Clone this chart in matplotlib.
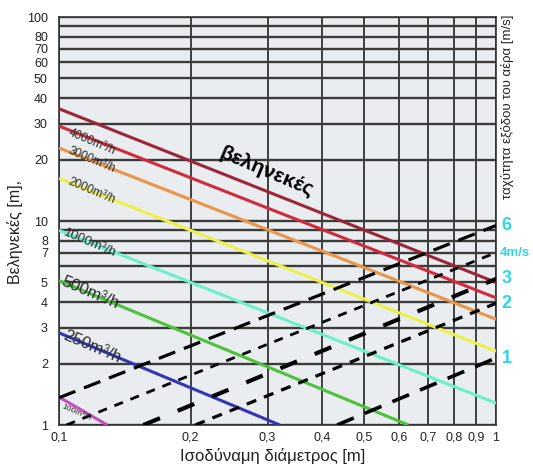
import matplotlib
matplotlib.use("Agg")
import matplotlib.pyplot as plt
from matplotlib.ticker import FixedLocator, FuncFormatter, NullFormatter

plt.rcParams["font.family"] = ["Liberation Sans", "DejaVu Sans"]

# throw [m] against equivalent diameter [m], one straight log-log line per air flow
flow_labels = ["", "4000m³/h", "3000m³/h", "2000m³/h", "1000m³/h", "500m³/h", "250m³/h", "100m³/h"]
flow_diam = [[0.1, 1.0], [0.1, 1.0], [0.1, 1.0], [0.1, 1.0], [0.1, 1.0],
             [0.1, 0.63], [0.1, 0.32], [0.1, 0.129]]
flow_throw = [[35.5, 5.0], [29.2, 4.2], [22.8, 3.3], [16.2, 2.3], [9.0, 1.28],
              [5.1, 1.0], [2.83, 1.0], [1.37, 1.0]]

# outlet air velocity lines
vel_labels = ["6", "4m/s", "3", "2", "1"]
vel_diam = [[0.1, 1.0], [0.104, 1.0], [0.156, 1.0], [0.205, 1.0], [0.433, 1.0]]
vel_throw = [[1.36, 9.5], [1.0, 7.0], [1.0, 5.2], [1.0, 3.95], [1.0, 2.13]]

x_ticks = [0.1, 0.2, 0.3, 0.4, 0.5, 0.6, 0.7, 0.8, 0.9, 1.0]
y_ticks = [1, 2, 3, 4, 5, 7, 8, 10, 20, 30, 40, 50, 60, 70, 80, 100]
y_minor = [6, 9, 90]

FLOW_COLORS = ["#9e2438", "#d02a3c", "#ec9448", "#eef04a", "#6cf0cc",
               "#4cc23c", "#3434b4", "#c64cc0"]
# dash, gap (scaled by linewidth)
VEL_STYLES = [
    dict(lw=2.3, dashes=(5.5, 2.9)),
    dict(lw=2.0, dashes=(3.3, 2.9)),
    dict(lw=3.0, dashes=(4.3, 4.6)),
    dict(lw=2.3, dashes=(3.2, 2.6)),
    dict(lw=2.6, dashes=(5.0, 3.3)),
]
CYAN = "#33d4e6"

fig = plt.figure(figsize=(5.33, 4.67), dpi=100)
ax = fig.add_axes([59 / 533, 42 / 467, 437 / 533, 408 / 467])
ax.set_facecolor("#e9edef")
ax.set_xscale("log")
ax.set_yscale("log")
ax.set_xlim(0.1, 1.0)
ax.set_ylim(1, 100)

ax.xaxis.set_major_locator(FixedLocator(x_ticks))
ax.xaxis.set_minor_locator(FixedLocator([]))
ax.xaxis.set_major_formatter(FuncFormatter(lambda v, p: f"{v:g}".replace(".", ",")))
ax.xaxis.set_minor_formatter(NullFormatter())
ax.yaxis.set_major_locator(FixedLocator(y_ticks))
ax.yaxis.set_minor_locator(FixedLocator(y_minor))
ax.yaxis.set_major_formatter(FuncFormatter(lambda v, p: f"{v:g}"))
ax.yaxis.set_minor_formatter(NullFormatter())
ax.tick_params(which="both", length=0, labelsize=9, colors="#222222")
ax.tick_params(axis="x", pad=5)
ax.tick_params(axis="y", pad=8)

ax.grid(axis="y", which="both", color="#3c3c3c", lw=1.7)
ax.grid(axis="x", which="major", color="#111111", lw=1.1)
ax.set_axisbelow(True)
for s in ax.spines.values():
    s.set_color("#333333")
    s.set_linewidth(1.2)

for d, t, c in zip(flow_diam, flow_throw, FLOW_COLORS):
    ax.plot(d, t, color=c, lw=2.2, solid_capstyle="butt", zorder=3)

for d, t, st in zip(vel_diam, vel_throw, VEL_STYLES):
    ax.plot(d, t, color="black", lw=st["lw"], linestyle=(0, st["dashes"]),
            dash_capstyle="butt", zorder=4)

# flow labels, rotated along the lines
label_pos = [None, (0.119, 24.5), (0.119, 20.0), (0.119, 14.0), (0.1177, 7.8),
             (0.1177, 4.45), (0.119, 2.42), (0.1094, 1.145)]
label_size = [0, 8.5, 8.5, 8.5, 9.5, 12, 12, 6]
for lab, pos, fs in zip(flow_labels, label_pos, label_size):
    if not lab:
        continue
    ax.text(pos[0], pos[1], lab, fontsize=fs, color="#2a2a2a", rotation=-23,
            ha="center", va="center", rotation_mode="anchor", zorder=5)

ax.text(0.299, 17.4, "βεληνεκές", fontsize=15, fontweight="bold", color="black",
        rotation=-23, ha="center", va="center", rotation_mode="anchor", zorder=5)

# velocity labels at the right-hand ends of the dashed lines
for lab, t in zip(vel_labels, vel_throw):
    small = len(lab) > 1
    ax.annotate(lab, xy=(1.0, t[-1]), xytext=(2.5 if small else 4, 0),
                textcoords="offset points",
                fontsize=9.5 if small else 13, fontweight="bold", color=CYAN,
                ha="left", va="center", annotation_clip=False)

fig.text(273 / 533, 1 - 456 / 467, "Ισοδύναμη διάμετρος [m]", fontsize=12,
         ha="center", va="center", color="#222222")
fig.text(15 / 533, 1 - 232 / 467, "Βεληνεκές [m],", fontsize=11.5, rotation=90,
         ha="center", va="center", color="#222222")
fig.text(508 / 533, 1 - 107 / 467, "ταχύτητα εξόδου του αέρα [m/s]", fontsize=9.5,
         rotation=90, ha="center", va="center", color="#222222")

fig.savefig("out.png", dpi=100)
